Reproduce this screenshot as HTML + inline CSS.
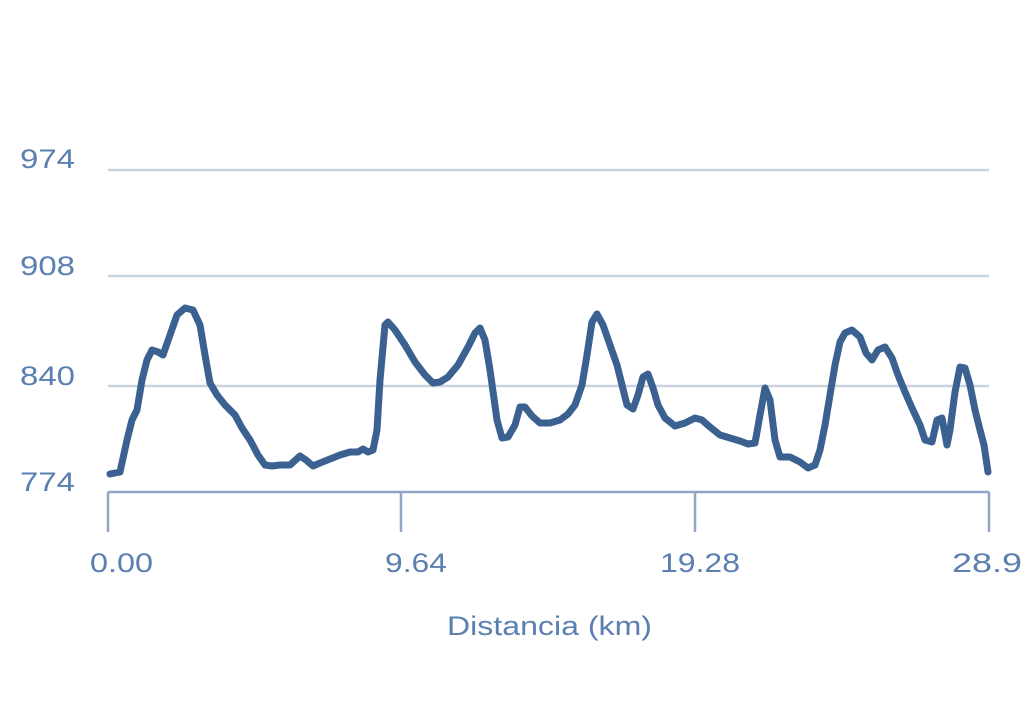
<!DOCTYPE html>
<html><head><meta charset="utf-8"><style>
html,body{margin:0;padding:0;background:#fff;}
</style></head><body>
<svg width="1024" height="724" xmlns="http://www.w3.org/2000/svg" style="display:block">
<g stroke="#c9d3df" stroke-width="2.5">
<line x1="108" y1="170" x2="989" y2="170"/>
<line x1="108" y1="276" x2="989" y2="276"/>
<line x1="108" y1="386" x2="989" y2="386"/>
</g>
<g stroke="#8fa5c4" stroke-width="2.5">
<line x1="108" y1="492" x2="989" y2="492"/>
<line x1="108" y1="492" x2="108" y2="532"/>
<line x1="401" y1="492" x2="401" y2="532"/>
<line x1="695" y1="492" x2="695" y2="532"/>
<line x1="989" y1="492" x2="989" y2="532"/>
</g>
<g font-family="Liberation Sans, sans-serif" font-size="27" fill="#5a7fb0" lengthAdjust="spacingAndGlyphs">
<text x="20" y="168" textLength="55" lengthAdjust="spacingAndGlyphs">974</text>
<text x="20" y="275" textLength="55" lengthAdjust="spacingAndGlyphs">908</text>
<text x="20" y="385" textLength="55" lengthAdjust="spacingAndGlyphs">840</text>
<text x="20" y="491" textLength="55" lengthAdjust="spacingAndGlyphs">774</text>
<text x="90" y="572" textLength="63" lengthAdjust="spacingAndGlyphs">0.00</text>
<text x="385" y="572" textLength="62" lengthAdjust="spacingAndGlyphs">9.64</text>
<text x="660" y="572" textLength="80" lengthAdjust="spacingAndGlyphs">19.28</text>
<text x="952" y="572" textLength="70" lengthAdjust="spacingAndGlyphs">28.9</text>
<text x="447" y="635" textLength="205" lengthAdjust="spacingAndGlyphs">Distancia (km)</text>
</g>
<polyline fill="none" stroke="#3b6190" stroke-width="7" stroke-linejoin="round" stroke-linecap="round" points="110,474 120,472 127,440 132,420 137,410 142,380 147,360 152,350 158,352 163,355 170,335 177,315 185,308 193,310 200,325 205,355 210,383 217,395 225,405 235,415 242,428 250,440 258,455 265,465 272,466 280,465 290,465 300,456 306,460 313,466 320,463 330,459 340,455 350,452 358,452 363,449 368,452 373,450 377,430 380,380 385,325 388,322 395,330 405,345 415,362 425,375 433,383 440,382 448,377 458,365 468,347 475,333 480,328 485,340 490,370 497,420 502,438 508,437 515,425 520,407 525,407 532,416 540,423 550,423 560,420 568,414 575,405 582,385 587,355 592,322 597,314 603,325 610,345 617,365 622,385 627,405 633,409 638,395 643,377 648,374 653,388 658,405 665,418 675,426 685,423 695,418 702,420 710,427 720,435 730,438 740,441 748,444 755,443 760,415 765,388 770,400 775,440 780,457 790,457 800,462 808,468 815,465 820,450 825,425 830,395 835,365 840,342 845,333 852,330 860,337 866,353 872,360 878,350 885,347 892,358 898,375 905,392 912,408 920,425 925,440 932,442 937,420 942,418 947,445 950,430 955,392 960,367 965,368 970,385 975,410 980,430 984,445 988,472"/>
</svg>
</body></html>
